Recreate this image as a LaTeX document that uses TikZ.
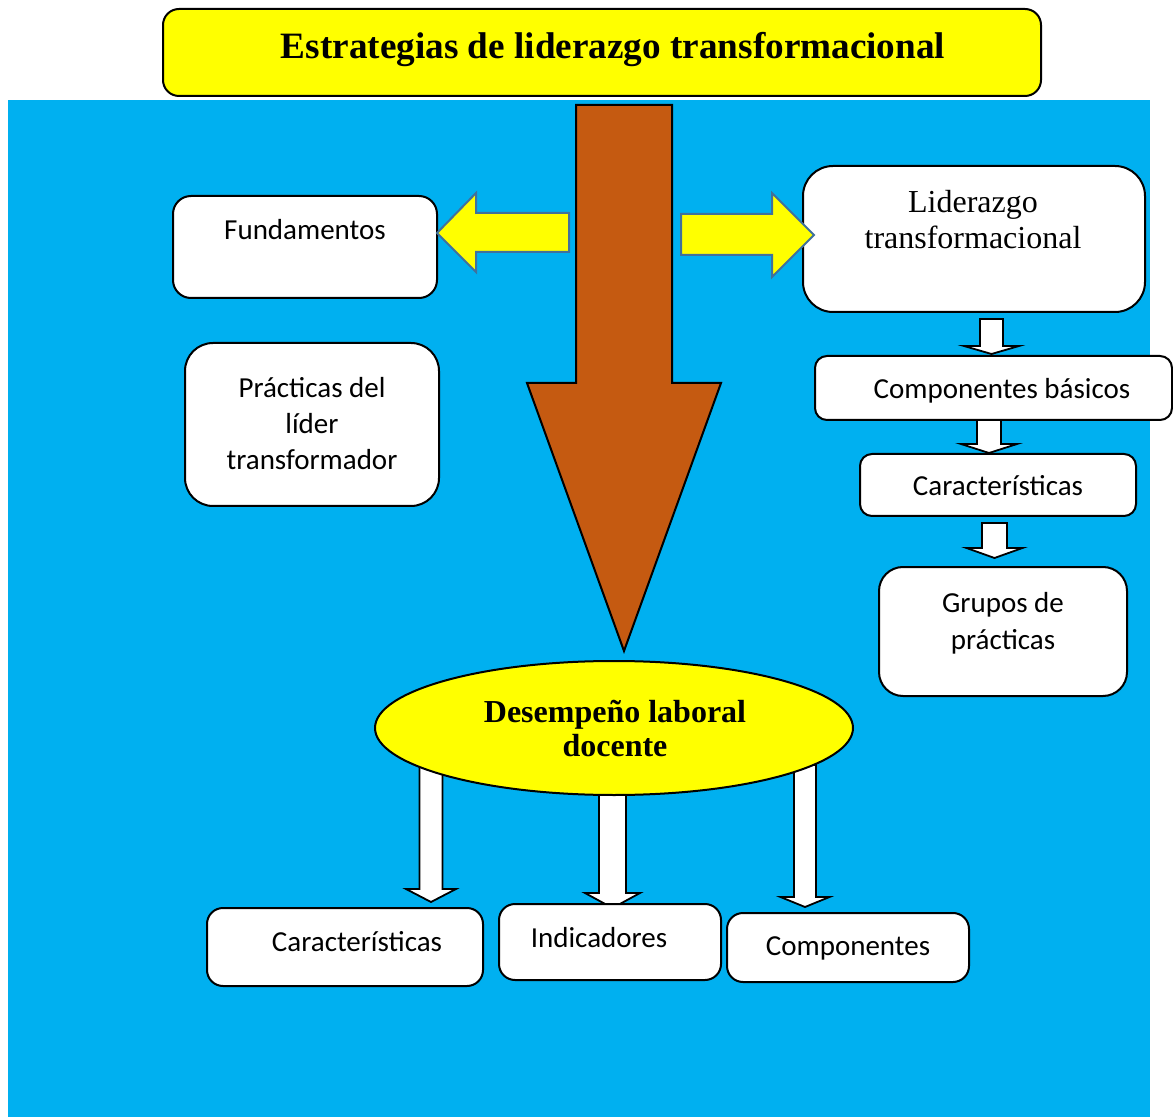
\documentclass[tikz,border=0pt]{standalone}
\usepackage{fontspec}
\setmainfont{Liberation Serif}
\newfontfamily\calibri{Carlito}
\usetikzlibrary{fit,shapes.geometric}
\definecolor{fondo}{HTML}{00B0F0}
\definecolor{cafe}{HTML}{C55A11}
\definecolor{borde}{HTML}{41719C}
\definecolor{amarillo}{HTML}{FFFF00}
\begin{document}
\begin{tikzpicture}[x=0.5pt,y=-0.5pt]
  \tikzstyle{caja}=[draw,line width=1pt,fill=white,inner sep=0pt]
  \tikzstyle{flecha}=[draw,line width=0.9pt,fill=white,line join=miter]
  \tikzstyle{amarilla}=[draw=borde,line width=1pt,fill=amarillo]
  \tikzstyle{texto}=[anchor=base,align=center,inner sep=0pt,font=\calibri\fontsize{14.5}{18}\selectfont]
  \tikzstyle{serif}=[anchor=base,align=center,inner sep=0pt,font=\fontsize{14.5}{18}\selectfont]
  \useasboundingbox (0,0) rectangle (1173,1117);
  \fill[fondo] (8,100) rectangle (1150,1117);
  % titulo
  \node[caja,fill=amarillo,rounded corners=8pt,fit={(163,9) (1041,96)}] (titulo) {};
  \node[serif,font=\fontsize{18.6}{22}\selectfont\bfseries] at (613,59) {Estrategias de liderazgo transformacional};
  % flecha central
  \draw[line width=1pt,fill=cafe] (576,105) -- (672,105) -- (672,383) -- (721,383)
    -- (624,651) -- (527,383) -- (576,383) -- cycle;
  % flechas blancas
  \foreach \x/\ya/\yb/\yc/\s/\h in {991.5/319/346/354/11.5/27.5, 989/417/444/453/12/28,
      994.5/523/548/558/12.5/28, 431/765/889/902/11.5/25, 612.5/790/893/908/13.5/27.5,
      805/765/897/907/11/24.5}
    \draw[flecha] (\x-\s,\ya) -- (\x+\s,\ya) -- (\x+\s,\yb) -- (\x+\h,\yb) -- (\x,\yc)
      -- (\x-\h,\yb) -- (\x-\s,\yb) -- cycle;
  % lado izquierdo
  \node[caja,rounded corners=9pt,fit={(173,196) (437,298)}] (fund) {};
  \node[texto] at (305,240) {Fundamentos};
  \node[caja,rounded corners=14pt,fit={(185,343) (439,506)}] (pract) {};
  \node[texto] at (312,470) {Prácticas del\\líder\\transformador};
  % lado derecho
  \node[caja,rounded corners=15pt,fit={(803,166) (1145,312)}] (lider) {};
  \node[serif,font=\fontsize{16}{18}\selectfont] at (973,249) {Liderazgo\\transformacional};
  \node[caja,rounded corners=6pt,fit={(815,356) (1172,420)}] (compb) {};
  \node[texto] at (1002,399) {Componentes básicos};
  \node[caja,rounded corners=6pt,fit={(860,454) (1136,516)}] (carac) {};
  \node[texto] at (998,495) {Características};
  \node[caja,rounded corners=12pt,fit={(879,567) (1127,696)}] (grupos) {};
  \node[texto,font=\calibri\fontsize{14.5}{18.5}\selectfont] at (1003,649) {Grupos de\\prácticas};
  % desempeño
  \node[ellipse,draw,line width=1pt,fill=amarillo,inner sep=0pt,minimum width=239pt,minimum height=67pt] (desem) at (614,728) {};
  \node[serif,font=\fontsize{16}{17}\selectfont\bfseries] at (615,756) {Desempeño laboral\\docente};
  \node[caja,rounded corners=8pt,fit={(207,908) (483,986)}] (bcarac) {};
  \node[texto] at (357,951) {Características};
  \node[caja,rounded corners=8pt,fit={(499,904) (721,980)}] (indic) {};
  \node[texto] at (599,947) {Indicadores};
  \node[caja,rounded corners=8pt,fit={(727,913) (969,982)}] (compo) {};
  \node[texto] at (848,955) {Componentes};
  % flechas amarillas
  \draw[amarilla] (569,213) -- (569,252) -- (476,252) -- (476,272) -- (437,233)
    -- (476,193) -- (476,213) -- cycle;
  \draw[amarilla] (681,214) -- (772,214) -- (772,193) -- (814,235) -- (772,277)
    -- (772,255) -- (681,255) -- cycle;
\end{tikzpicture}
\end{document}
